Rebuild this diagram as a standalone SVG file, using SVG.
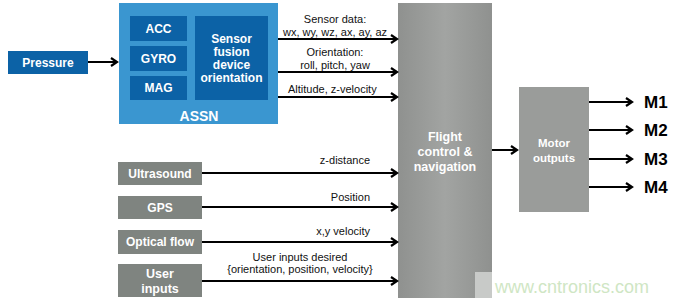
<svg xmlns="http://www.w3.org/2000/svg" width="675" height="303" viewBox="0 0 675 303">
<defs>
<marker id="ah" markerWidth="10" markerHeight="10" refX="8" refY="5" orient="auto" markerUnits="userSpaceOnUse">
<path d="M2,1 L8,5 L2,9" fill="none" stroke="#000" stroke-width="2.2"/>
</marker>
<linearGradient id="gfc" x1="0" y1="0" x2="1" y2="0">
<stop offset="0" stop-color="#8f918f"/><stop offset="0.5" stop-color="#a2a4a2"/><stop offset="1" stop-color="#8f918f"/>
</linearGradient>
</defs>
<style>
.c{stroke:#000;stroke-width:2;fill:none;marker-end:url(#ah)}
.w{font-family:"Liberation Sans",Arial,sans-serif;font-weight:bold;fill:#fff;text-anchor:middle}
.l{font-family:"Liberation Sans",Arial,sans-serif;font-size:11px;fill:#111}
.m{font-family:"Liberation Sans",Arial,sans-serif;font-weight:bold;font-size:17px;fill:#000}
.inner{fill:#0c62a6}
.gray{fill:#7f8480}
</style>
<rect width="675" height="303" fill="#fff"/>
<g id="pressure"><rect x="8" y="51" width="80" height="23" class="inner"/><text x="48" y="67" class="w" font-size="12">Pressure</text></g>
<g id="assn">
<rect x="119" y="3" width="159" height="121" fill="#3a96d0"/>
<text x="199" y="121" class="w" font-size="14">ASSN</text>
<g id="acc"><rect x="130" y="16" width="57" height="25" class="inner"/><text x="158.5" y="33" class="w" font-size="12">ACC</text></g>
<g id="gyro"><rect x="130" y="46" width="57" height="25" class="inner"/><text x="158.5" y="63" class="w" font-size="12">GYRO</text></g>
<g id="mag"><rect x="130" y="76" width="57" height="24" class="inner"/><text x="158.5" y="92" class="w" font-size="12">MAG</text></g>
<g id="fusion"><rect x="195" y="16" width="73" height="84" class="inner"/>
<text class="w" font-size="12"><tspan x="231.5" y="43">Sensor</tspan><tspan x="231.5" y="56">fusion</tspan><tspan x="231.5" y="69">device</tspan><tspan x="231.5" y="82">orientation</tspan></text></g>
</g>
<g id="ultrasound"><rect x="118" y="162" width="84" height="23" class="gray"/><text x="160" y="178" class="w" font-size="12">Ultrasound</text></g>
<g id="gps"><rect x="118" y="196" width="84" height="23" class="gray"/><text x="160" y="212" class="w" font-size="12">GPS</text></g>
<g id="optical"><rect x="118" y="230" width="84" height="24" class="gray"/><text x="160" y="246" class="w" font-size="12">Optical flow</text></g>
<g id="user"><rect x="118" y="264" width="84" height="33" class="gray"/><text class="w" font-size="12.5"><tspan x="160" y="278">User</tspan><tspan x="160" y="293">inputs</tspan></text></g>
<g id="flight"><rect x="398" y="3" width="94" height="295" fill="url(#gfc)"/>
<text class="w" font-size="12.5"><tspan x="445" y="141">Flight</tspan><tspan x="445" y="156">control &amp;</tspan><tspan x="445" y="171">navigation</tspan></text></g>
<g id="motor"><rect x="519" y="87" width="70" height="125" fill="#9a9c9a"/>
<text class="w" font-size="11.5"><tspan x="554" y="147">Motor</tspan><tspan x="554" y="162">outputs</tspan></text></g>
<g id="watermark"><rect x="475" y="272" width="17" height="26" fill="#c8cac8"/><text x="572" y="293" font-family="Liberation Sans,Arial,sans-serif" font-size="18" fill="#cfe6c4" text-anchor="middle">www.cntronics.com</text></g>
<g id="connectors">
<line x1="88" y1="62" x2="117" y2="62" class="c"/>
<line x1="278" y1="39" x2="397" y2="39" class="c"/>
<line x1="278" y1="72" x2="397" y2="72" class="c"/>
<line x1="278" y1="97" x2="397" y2="97" class="c"/>
<line x1="202" y1="173" x2="397" y2="173" class="c"/>
<line x1="202" y1="207" x2="397" y2="207" class="c"/>
<line x1="202" y1="242" x2="397" y2="242" class="c"/>
<line x1="202" y1="281" x2="397" y2="281" class="c"/>
<line x1="492" y1="150" x2="517" y2="150" class="c"/>
<line x1="589" y1="102" x2="632" y2="102" class="c"/>
<line x1="589" y1="130" x2="632" y2="130" class="c"/>
<line x1="589" y1="159" x2="632" y2="159" class="c"/>
<line x1="589" y1="187" x2="632" y2="187" class="c"/>
</g>
<g id="labels">
<text class="l" x="335" y="23" text-anchor="middle">Sensor data:</text>
<text class="l" x="335" y="36" text-anchor="middle">wx, wy, wz, ax, ay, az</text>
<text class="l" x="335" y="56" text-anchor="middle">Orientation:</text>
<text class="l" x="335" y="69" text-anchor="middle">roll, pitch, yaw</text>
<text class="l" x="288" y="93">Altitude, z-velocity</text>
<text class="l" x="370" y="164" text-anchor="end">z-distance</text>
<text class="l" x="370" y="201" text-anchor="end">Position</text>
<text class="l" x="370" y="235" text-anchor="end">x,y velocity</text>
<text class="l" x="300" y="261" text-anchor="middle">User inputs desired</text>
<text class="l" x="300" y="273" text-anchor="middle">{orientation, position, velocity}</text>
<text class="m" x="644" y="108">M1</text>
<text class="m" x="644" y="136">M2</text>
<text class="m" x="644" y="165">M3</text>
<text class="m" x="644" y="193">M4</text>
</g>
</svg>
